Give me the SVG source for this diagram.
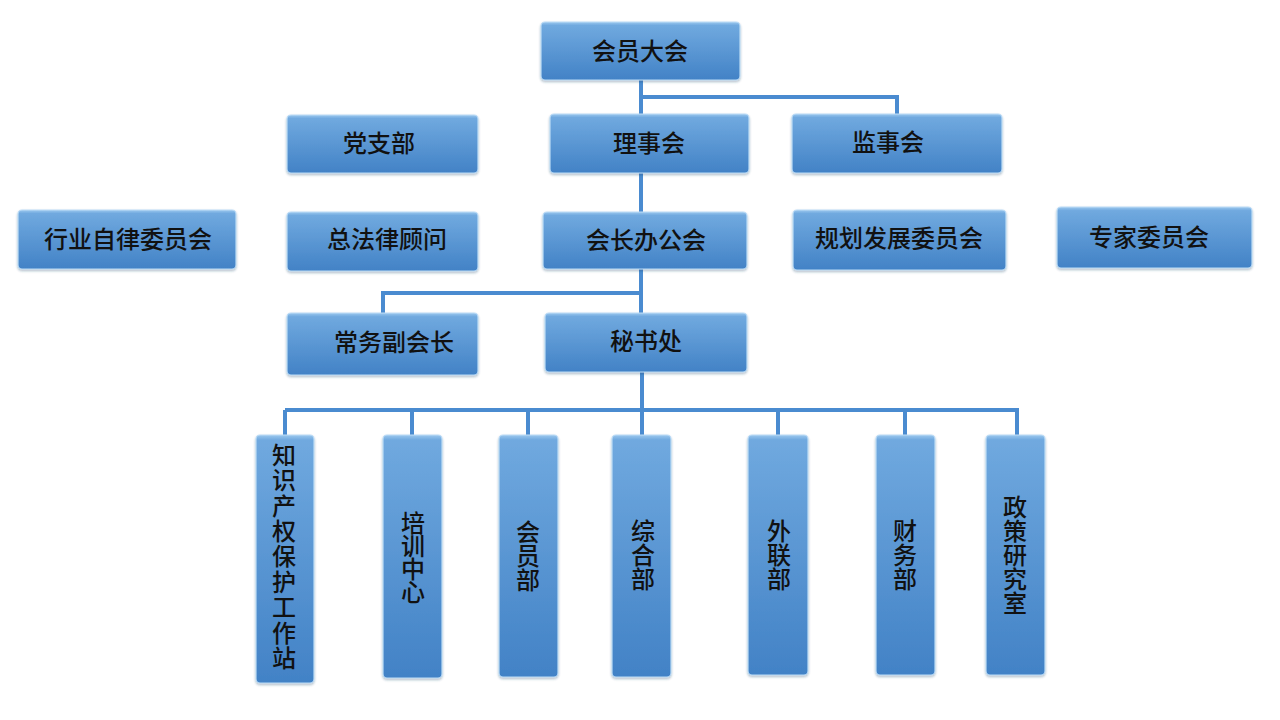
<svg xmlns="http://www.w3.org/2000/svg" width="1280" height="720" viewBox="0 0 1280 720">
<defs>
<linearGradient id="g" x1="0" y1="0" x2="0" y2="1">
<stop offset="0" stop-color="#9cc8ee"/>
<stop offset="0.06" stop-color="#70a9df"/>
<stop offset="1" stop-color="#4282c6"/>
</linearGradient>
<linearGradient id="gv" x1="0" y1="0" x2="0" y2="1">
<stop offset="0" stop-color="#9cc8ee"/>
<stop offset="0.02" stop-color="#70a9df"/>
<stop offset="1" stop-color="#4282c6"/>
</linearGradient>
<filter id="sh" x="-10%" y="-10%" width="120%" height="120%">
<feDropShadow dx="0" dy="1.5" stdDeviation="1" flood-color="#1e3f66" flood-opacity="0.35"/>
</filter>
</defs>
<style>
.b{fill:url(#g);stroke:#bcdcf6;stroke-width:1.2;filter:url(#sh)}
.v{fill:url(#gv);stroke:#bcdcf6;stroke-width:1.2;filter:url(#sh)}
.t{font-family:"Noto Sans CJK SC","Noto Sans CJK JP",sans-serif;font-size:24px;font-weight:500;fill:#111;text-anchor:middle;dominant-baseline:central}
.vt{font-family:"Noto Sans CJK SC","Noto Sans CJK JP",sans-serif;font-size:24px;font-weight:500;fill:#111;text-anchor:middle;writing-mode:vertical-rl}
.c{fill:none;stroke:#4a8bd0;stroke-width:4}
</style>
<rect width="1280" height="720" fill="#fff"/>
<g id="connectors">
<path class="c" d="M641 80 V114 M641 97 H897 V114"/>
<path class="c" d="M641 173 V212"/>
<path class="c" d="M641 269 V313 M641 293 H383 V313"/>
<path class="c" d="M642 372 V435 M285 410 H1017 V435 M285 410 V435 M412 410 V435 M528 410 V435 M778 410 V435 M905 410 V435"/>
</g>
<g id="n1"><rect class="b" x="541" y="22" width="199" height="58" rx="4"/><text class="t" x="640" y="49">会员大会</text></g>
<g id="n2"><rect class="b" x="550" y="114" width="199" height="59" rx="4"/><text class="t" x="649" y="141">理事会</text></g>
<g id="n3"><rect class="b" x="792" y="114" width="210" height="59" rx="4"/><text class="t" x="888" y="140">监事会</text></g>
<g id="n4"><rect class="b" x="287" y="115" width="191" height="58" rx="4"/><text class="t" x="379" y="141">党支部</text></g>
<g id="n5"><rect class="b" x="18" y="210" width="218" height="59" rx="4"/><text class="t" x="128" y="237">行业自律委员会</text></g>
<g id="n6"><rect class="b" x="287" y="212" width="191" height="59" rx="4"/><text class="t" x="387" y="237">总法律顾问</text></g>
<g id="n7"><rect class="b" x="543" y="212" width="204" height="57" rx="4"/><text class="t" x="646" y="238">会长办公会</text></g>
<g id="n8"><rect class="b" x="793" y="210" width="213" height="60" rx="4"/><text class="t" x="899" y="236">规划发展委员会</text></g>
<g id="n9"><rect class="b" x="1057" y="207" width="195" height="61" rx="4"/><text class="t" x="1149" y="235">专家委员会</text></g>
<g id="n10"><rect class="b" x="287" y="313" width="191" height="62" rx="4"/><text class="t" x="394" y="340">常务副会长</text></g>
<g id="n11"><rect class="b" x="545" y="313" width="202" height="59" rx="4"/><text class="t" x="646" y="339">秘书处</text></g>
<g id="n12"><rect class="v" x="256" y="435" width="58" height="248" rx="4"/><text class="vt" x="284" y="557" letter-spacing="1.4">知识产权保护工作站</text></g>
<g id="n13"><rect class="v" x="383" y="435" width="59" height="243" rx="4"/><text class="vt" x="413" y="557" letter-spacing="-1">培训中心</text></g>
<g id="n14"><rect class="v" x="499" y="435" width="59" height="242" rx="4"/><text class="vt" x="528" y="556">会员部</text></g>
<g id="n15"><rect class="v" x="612" y="435" width="59" height="242" rx="4"/><text class="vt" x="643" y="555">综合部</text></g>
<g id="n16"><rect class="v" x="748" y="435" width="60" height="240" rx="4"/><text class="vt" x="779" y="555">外联部</text></g>
<g id="n17"><rect class="v" x="876" y="435" width="59" height="240" rx="4"/><text class="vt" x="905" y="555">财务部</text></g>
<g id="n18"><rect class="v" x="986" y="435" width="59" height="240" rx="4"/><text class="vt" x="1015" y="555">政策研究室</text></g>
</svg>
